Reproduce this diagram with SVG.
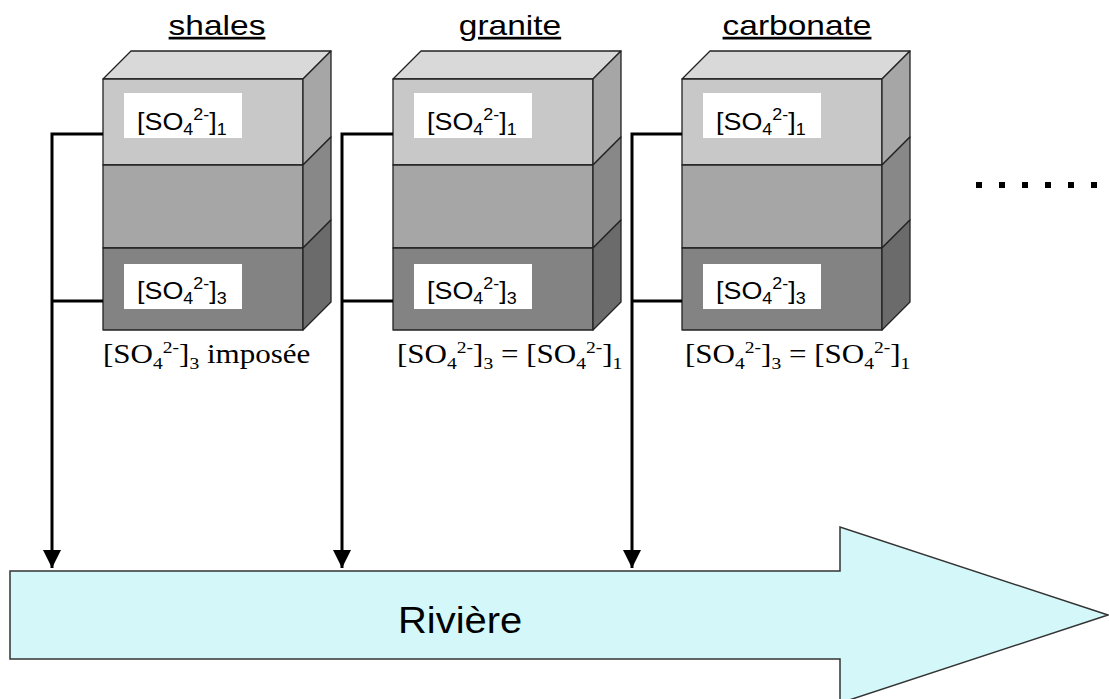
<svg xmlns="http://www.w3.org/2000/svg" width="1109" height="699" viewBox="0 0 1109 699">
<defs>
<style>
.edge{stroke:#222;stroke-width:1.3;stroke-linejoin:round}
.top{fill:#D9D9D9}
.f1{fill:#C8C8C8}.s1{fill:#A6A6A6}
.f2{fill:#A6A6A6}.s2{fill:#888888}
.f3{fill:#838383}.s3{fill:#6B6B6B}
.box{fill:#FFFFFF}
.lbl{font-family:"Liberation Sans",Arial,sans-serif;font-size:24px;fill:#000}
.sm{font-size:16px}
.ttl{font-family:"Liberation Sans",Arial,sans-serif;font-size:27px;fill:#000;text-decoration:underline;text-anchor:middle}
.tm{font-family:"Liberation Serif","Times New Roman",serif;font-size:27px;fill:#000}
.tsm{font-size:17px}
.conn{stroke:#000;stroke-width:3;fill:none}
</style>
<marker id="ah" viewBox="0 0 18 18" refX="18" refY="9" markerWidth="18" markerHeight="18" markerUnits="userSpaceOnUse" orient="auto">
<path d="M0,0 L18,9 L0,18 Z" fill="#000"/>
</marker>
<g id="block">
<polygon class="top edge" points="0,79 28,51 228,51 200,79"/>
<rect class="f1 edge" x="0" y="79" width="200" height="86"/>
<polygon class="s1 edge" points="200,79 228,51 228,137 200,165"/>
<rect class="f2 edge" x="0" y="165" width="200" height="83"/>
<polygon class="s2 edge" points="200,165 228,137 228,220 200,248"/>
<rect class="f3 edge" x="0" y="248" width="200" height="82"/>
<polygon class="s3 edge" points="200,248 228,220 228,302 200,330"/>
<rect class="box" x="21" y="93" width="118" height="45"/>
<rect class="box" x="21" y="264" width="118" height="45"/>
<text class="lbl" transform="translate(34,130) scale(1.12,1)">[SO<tspan class="sm" dy="5">4</tspan><tspan class="sm" dy="-15">2-</tspan><tspan dy="10">]</tspan><tspan class="sm" dy="5">1</tspan></text>
<text class="lbl" transform="translate(34,299) scale(1.12,1)">[SO<tspan class="sm" dy="5">4</tspan><tspan class="sm" dy="-15">2-</tspan><tspan dy="10">]</tspan><tspan class="sm" dy="5">3</tspan></text>
</g>
</defs>

<g id="river">
<polygon points="10,571 840,571 840,527 1108,615 840,703 840,659 10,659" fill="#D4F8FA" stroke="#333" stroke-width="1.5"/>
<text x="0" y="0" transform="translate(398,633) scale(1.08,1)" font-family="Liberation Sans,Arial,sans-serif" font-size="37" fill="#000">Rivière</text>
</g>

<g id="shales">
<text class="ttl" transform="translate(217,35) scale(1.24,1)">shales</text>
<use href="#block" x="103" y="0"/>
<text class="tm" transform="translate(103,363) scale(1.15,1)">[SO<tspan class="tsm" dy="6">4</tspan><tspan class="tsm" dy="-16">2-</tspan><tspan dy="10">]</tspan><tspan class="tsm" dy="6">3</tspan><tspan dy="-6"> imposée</tspan></text>
</g>

<g id="granite">
<text class="ttl" transform="translate(510,35) scale(1.24,1)">granite</text>
<use href="#block" x="393" y="0"/>
<text class="tm" transform="translate(397,363) scale(1.15,1)">[SO<tspan class="tsm" dy="6">4</tspan><tspan class="tsm" dy="-16">2-</tspan><tspan dy="10">]</tspan><tspan class="tsm" dy="6">3</tspan><tspan dy="-6"> = [SO</tspan><tspan class="tsm" dy="6">4</tspan><tspan class="tsm" dy="-16">2-</tspan><tspan dy="10">]</tspan><tspan class="tsm" dy="6">1</tspan></text>
</g>

<g id="carbonate">
<text class="ttl" transform="translate(797,35) scale(1.24,1)">carbonate</text>
<use href="#block" x="682" y="0"/>
<text class="tm" transform="translate(685,363) scale(1.15,1)">[SO<tspan class="tsm" dy="6">4</tspan><tspan class="tsm" dy="-16">2-</tspan><tspan dy="10">]</tspan><tspan class="tsm" dy="6">3</tspan><tspan dy="-6"> = [SO</tspan><tspan class="tsm" dy="6">4</tspan><tspan class="tsm" dy="-16">2-</tspan><tspan dy="10">]</tspan><tspan class="tsm" dy="6">1</tspan></text>
</g>

<g id="dots" fill="#000">
<rect x="976" y="182" width="6" height="6"/>
<rect x="999" y="182" width="6" height="6"/>
<rect x="1022" y="182" width="6" height="6"/>
<rect x="1045" y="182" width="6" height="6"/>
<rect x="1068" y="182" width="6" height="6"/>
<rect x="1091" y="182" width="6" height="6"/>
</g>

<g id="connectors">
<path class="conn" d="M103,134 H52 V568" marker-end="url(#ah)"/>
<path class="conn" d="M103,301 H52"/>
<path class="conn" d="M393,134 H342 V568" marker-end="url(#ah)"/>
<path class="conn" d="M393,301 H342"/>
<path class="conn" d="M682,134 H632 V568" marker-end="url(#ah)"/>
<path class="conn" d="M682,301 H632"/>
</g>
</svg>
